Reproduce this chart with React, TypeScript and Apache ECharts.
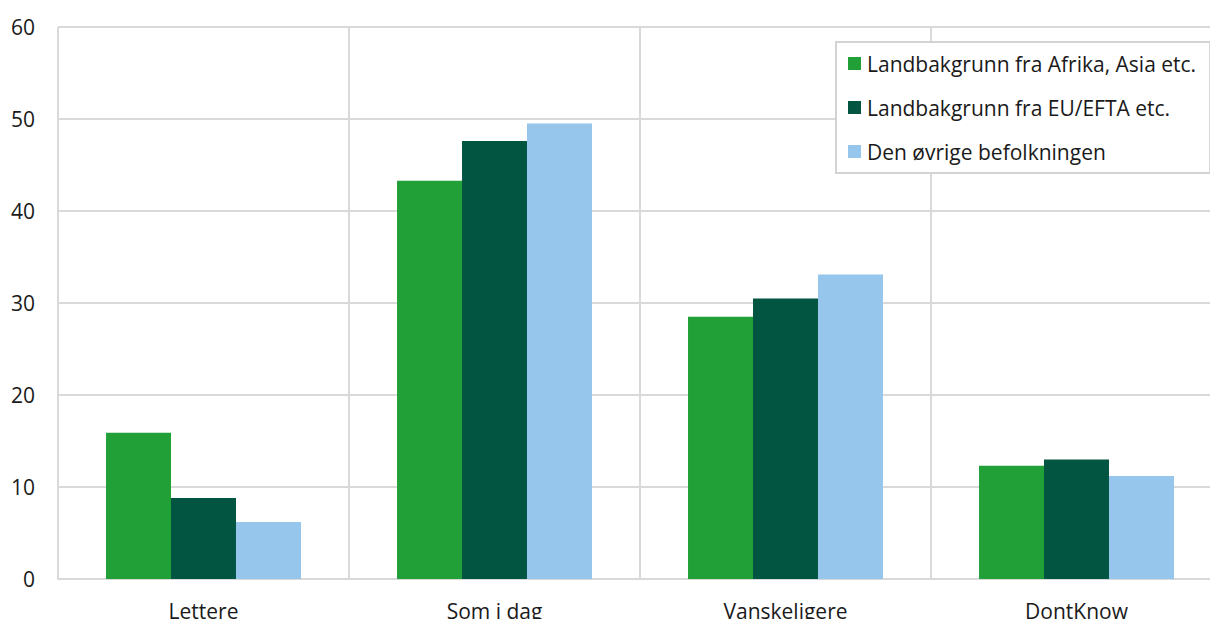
import React, { useEffect, useRef } from "react";
import * as echarts from "echarts";

const categories = ["Lettere", "Som i dag", "Vanskeligere", "DontKnow"];
const seriesNames = [
  "Landbakgrunn fra Afrika, Asia etc.",
  "Landbakgrunn fra EU/EFTA etc.",
  "Den øvrige befolkningen",
];
const afrikaAsia = [15.9, 43.3, 28.5, 12.3];
const euEfta = [8.8, 47.6, 30.5, 13.0];
const ovrige = [6.2, 49.5, 33.1, 11.2];
const colors = ["#21a038", "#025641", "#96c6ec"];
const yTicks = { min: 0, max: 60, interval: 10 };

export default function App() {
  const ref = useRef<HTMLDivElement>(null);
  useEffect(() => {
    if (!ref.current) return;
    const chart = echarts.init(ref.current, undefined, { renderer: "svg" });
    const font = "'Open Sans', 'Noto Sans', sans-serif";
    const values = [afrikaAsia, euEfta, ovrige];
    chart.setOption({
      animation: false,
      textStyle: { fontFamily: font },
      grid: {
        left: 58,
        width: 1164,
        top: 27,
        bottom: 40,
        containLabel: false,
        outerBoundsMode: "none",
      },
      legend: {
        orient: "vertical",
        left: 836,
        top: 42,
        padding: [11, 14, 11, 12],
        itemWidth: 13,
        itemHeight: 13,
        itemGap: 23,
        icon: "rect",
        backgroundColor: "#ffffff",
        borderColor: "#d3d3d3",
        borderWidth: 2,
        borderRadius: 0,
        textStyle: { fontFamily: font, fontSize: 21, color: "#1a1a1a", padding: [0, 0, 0, 1] },
        data: seriesNames,
      },
      xAxis: {
        type: "category",
        data: categories,
        axisLine: { show: true, lineStyle: { color: "#d9d9d9", width: 2 } },
        axisTick: { show: false },
        splitLine: { show: true, lineStyle: { color: "#d9d9d9", width: 2 } },
        axisLabel: { fontFamily: font, fontSize: 21, color: "#1a1a1a", margin: 21 },
      },
      yAxis: {
        type: "value",
        min: yTicks.min,
        max: yTicks.max,
        interval: yTicks.interval,
        axisLine: { show: false },
        axisTick: { show: false },
        splitLine: { show: true, lineStyle: { color: "#d9d9d9", width: 2 } },
        axisLabel: { fontFamily: font, fontSize: 21, color: "#1a1a1a", margin: 23 },
      },
      series: seriesNames.map((name, i) => ({
        name,
        type: "bar",
        data: values[i],
        barGap: "0%",
        barCategoryGap: "33%",
        itemStyle: { color: colors[i] },
      })),
    });
    return () => chart.dispose();
  }, []);
  return (
    <div
      ref={ref}
      style={{ position: "absolute", left: 0, top: 0, width: 1210, height: 619 }}
    />
  );
}
